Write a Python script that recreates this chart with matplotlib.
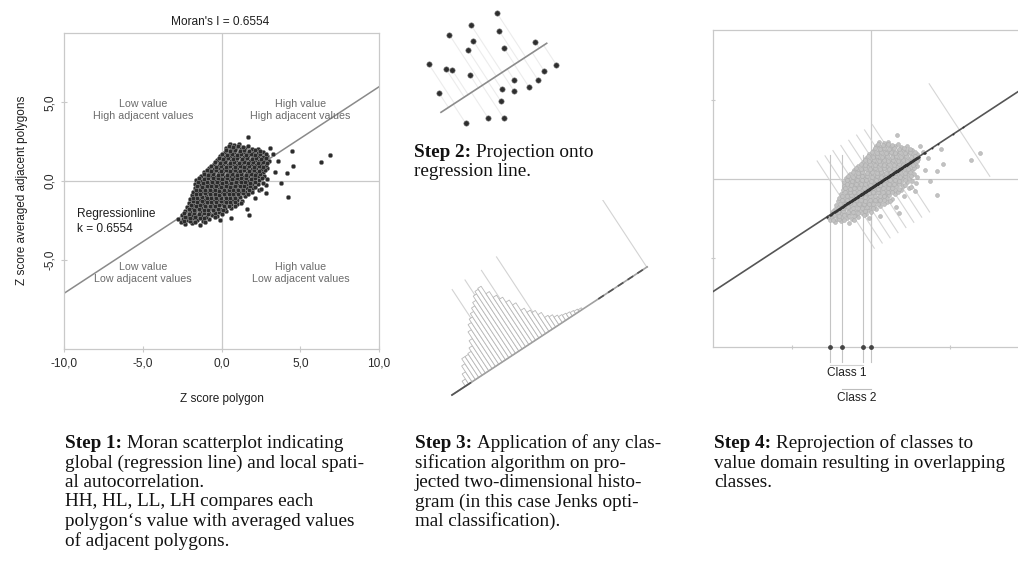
import numpy as np
import matplotlib
matplotlib.use("Agg")
import matplotlib.pyplot as plt
from matplotlib import transforms

# ------------------------------------------------------------------ data
# Moran scatterplot cloud (z score polygon, z score averaged adjacent polygons)
cloud_pts = [
    (-2.6, -2.62), (-2.3, -2.75), (-1.9, -2.66), (-1.4, -2.78),
    (-2.45, -2.41), (-2.15, -2.5), (-1.85, -2.38), (-1.55, -2.47), (-1.2, -2.52), (-0.8, -2.4), (-0.1, -2.48),
    (-2.5, -2.18), (-2.2, -2.26), (-1.9, -2.14), (-1.6, -2.23), (-1.3, -2.17), (-1.0, -2.27), (-0.6, -2.16), (-0.3, -2.22),
    (-2.3, -1.92), (-2.0, -2.0), (-1.7, -1.9), (-1.4, -1.98), (-1.1, -1.93), (-0.8, -2.01), (-0.5, -1.9), (-0.2, -1.97), (0.3, -1.92),
    (-2.2, -1.66), (-1.9, -1.74), (-1.6, -1.68), (-1.3, -1.73), (-1.0, -1.65), (-0.7, -1.72), (-0.4, -1.67), (-0.1, -1.75), (0.2, -1.69), (0.6, -1.71), (1.6, -1.78),
    (-2.1, -1.42), (-1.8, -1.5), (-1.5, -1.43), (-1.2, -1.48), (-0.9, -1.41), (-0.6, -1.49), (-0.3, -1.44), (0.0, -1.47), (0.3, -1.4), (0.6, -1.46), (1.0, -1.43),
    (-2.0, -1.17), (-1.7, -1.24), (-1.4, -1.18), (-1.1, -1.23), (-0.8, -1.16), (-0.5, -1.22), (-0.2, -1.19), (0.1, -1.25), (0.4, -1.17), (0.7, -1.21), (1.0, -1.18), (1.3, -1.24),
    (-1.9, -0.92), (-1.6, -0.98), (-1.3, -0.93), (-1.0, -0.97), (-0.7, -0.91), (-0.4, -0.99), (-0.1, -0.94), (0.2, -0.96), (0.5, -0.9), (0.8, -0.98), (1.1, -0.93), (1.5, -0.96),
    (-1.8, -0.67), (-1.5, -0.73), (-1.2, -0.68), (-0.9, -0.72), (-0.6, -0.66), (-0.3, -0.74), (0.0, -0.69), (0.3, -0.71), (0.6, -0.65), (0.9, -0.73), (1.2, -0.68), (1.5, -0.72), (1.9, -0.67), (2.4, -0.57),
    (-1.7, -0.42), (-1.4, -0.48), (-1.1, -0.43), (-0.8, -0.47), (-0.5, -0.41), (-0.2, -0.49), (0.1, -0.44), (0.4, -0.46), (0.7, -0.4), (1.0, -0.48), (1.3, -0.43), (1.6, -0.47), (2.0, -0.42),
    (-1.7, -0.17), (-1.4, -0.23), (-1.1, -0.18), (-0.8, -0.22), (-0.5, -0.16), (-0.2, -0.24), (0.1, -0.19), (0.4, -0.21), (0.7, -0.15), (1.0, -0.23), (1.3, -0.18), (1.6, -0.22), (1.9, -0.17), (2.3, -0.21), (2.85, -0.27),
    (-1.6, 0.08), (-1.3, 0.02), (-1.0, 0.07), (-0.7, 0.03), (-0.4, 0.09), (-0.1, 0.01), (0.2, 0.06), (0.5, 0.04), (0.8, 0.1), (1.1, 0.02), (1.4, 0.07), (1.7, 0.03), (2.0, 0.08), (2.4, 0.04), (2.9, 0.12),
    (-1.3, 0.33), (-1.0, 0.27), (-0.7, 0.32), (-0.4, 0.28), (-0.1, 0.34), (0.2, 0.26), (0.5, 0.31), (0.8, 0.29), (1.1, 0.35), (1.4, 0.27), (1.7, 0.32), (2.0, 0.28), (2.3, 0.33), (2.7, 0.29),
    (-1.1, 0.58), (-0.8, 0.52), (-0.5, 0.57), (-0.2, 0.53), (0.1, 0.59), (0.4, 0.51), (0.7, 0.56), (1.0, 0.54), (1.3, 0.6), (1.6, 0.52), (1.9, 0.57), (2.2, 0.53), (2.6, 0.58),
    (-0.8, 0.83), (-0.5, 0.77), (-0.2, 0.82), (0.1, 0.78), (0.4, 0.84), (0.7, 0.76), (1.0, 0.81), (1.3, 0.79), (1.6, 0.85), (1.9, 0.77), (2.2, 0.82), (2.5, 0.78), (2.9, 0.83),
    (-0.5, 1.08), (-0.2, 1.02), (0.1, 1.07), (0.4, 1.03), (0.7, 1.09), (1.0, 1.01), (1.3, 1.06), (1.6, 1.04), (1.9, 1.1), (2.2, 1.02), (2.5, 1.07), (2.8, 1.03),
    (-0.3, 1.33), (0.0, 1.27), (0.3, 1.32), (0.6, 1.28), (0.9, 1.34), (1.2, 1.26), (1.5, 1.31), (1.8, 1.29), (2.1, 1.35), (2.4, 1.27), (2.7, 1.32), (3.0, 1.28),
    (-0.1, 1.58), (0.2, 1.52), (0.5, 1.57), (0.8, 1.53), (1.1, 1.59), (1.4, 1.51), (1.7, 1.56), (2.0, 1.54), (2.3, 1.6), (2.6, 1.52), (2.9, 1.57),
    (0.2, 1.83), (0.5, 1.77), (0.8, 1.82), (1.1, 1.78), (1.4, 1.84), (1.7, 1.76), (2.0, 1.81), (2.3, 1.79), (2.6, 1.85),
    (0.3, 2.08), (0.6, 2.02), (0.9, 2.07), (1.2, 2.03), (1.5, 2.09), (1.9, 2.01), (2.3, 2.06),
    (0.5, 2.33), (0.8, 2.27), (1.1, 2.32),
    # in-between polygons (dense core)
    (-2.4, -2.57), (-2.0, -2.55), (-1.7, -2.6), (-1.05, -2.6),
    (-2.35, -2.3), (-2.0, -2.34), (-1.7, -2.29), (-1.4, -2.33), (-1.1, -2.36), (-0.45, -2.3),
    (-2.4, -2.05), (-2.1, -2.1), (-1.75, -2.04), (-1.45, -2.09), (-1.15, -2.06), (-0.85, -2.12), (-0.4, -2.05), (0.0, -2.1),
    (-2.05, -1.8), (-1.75, -1.85), (-1.45, -1.79), (-1.15, -1.84), (-0.85, -1.81), (-0.55, -1.86), (-0.25, -1.8), (0.1, -1.84),
    (-1.95, -1.55), (-1.65, -1.6), (-1.35, -1.54), (-1.05, -1.59), (-0.75, -1.56), (-0.45, -1.61), (-0.15, -1.55), (0.15, -1.6), (0.45, -1.57), (0.85, -1.6),
    (-1.85, -1.3), (-1.55, -1.35), (-1.25, -1.29), (-0.95, -1.34), (-0.65, -1.31), (-0.35, -1.36), (-0.05, -1.3), (0.25, -1.35), (0.55, -1.31), (0.85, -1.33), (1.2, -1.37),
    (-1.85, -1.05), (-1.55, -1.1), (-1.25, -1.04), (-0.95, -1.09), (-0.65, -1.06), (-0.35, -1.11), (-0.05, -1.05), (0.25, -1.1), (0.55, -1.06), (0.85, -1.09), (1.15, -1.04),
    (-1.65, -0.8), (-1.35, -0.85), (-1.05, -0.79), (-0.75, -0.84), (-0.45, -0.81), (-0.15, -0.86), (0.15, -0.8), (0.45, -0.85), (0.75, -0.81), (1.05, -0.84), (1.35, -0.79), (1.7, -0.85),
    (-1.65, -0.55), (-1.35, -0.6), (-1.05, -0.54), (-0.75, -0.59), (-0.45, -0.56), (-0.15, -0.61), (0.15, -0.55), (0.45, -0.6), (0.75, -0.56), (1.05, -0.59), (1.35, -0.54), (1.75, -0.6),
    (-1.55, -0.3), (-1.25, -0.35), (-0.95, -0.29), (-0.65, -0.34), (-0.35, -0.31), (-0.05, -0.36), (0.25, -0.3), (0.55, -0.35), (0.85, -0.31), (1.15, -0.34), (1.45, -0.29), (1.8, -0.33), (2.15, -0.36),
    (-1.5, -0.05), (-1.2, -0.1), (-0.9, -0.04), (-0.6, -0.09), (-0.3, -0.06), (0.0, -0.11), (0.3, -0.05), (0.6, -0.1), (0.9, -0.06), (1.2, -0.09), (1.5, -0.04), (1.8, -0.1), (2.15, -0.06), (2.6, -0.1),
    (-1.45, 0.2), (-1.15, 0.15), (-0.85, 0.21), (-0.55, 0.16), (-0.25, 0.19), (0.05, 0.14), (0.35, 0.2), (0.65, 0.15), (0.95, 0.19), (1.25, 0.16), (1.55, 0.21), (1.85, 0.15), (2.15, 0.2), (2.55, 0.16),
    (-1.15, 0.45), (-0.85, 0.4), (-0.55, 0.46), (-0.25, 0.41), (0.05, 0.44), (0.35, 0.39), (0.65, 0.45), (0.95, 0.4), (1.25, 0.44), (1.55, 0.41), (1.85, 0.46), (2.15, 0.4), (2.45, 0.45),
    (-0.95, 0.7), (-0.65, 0.65), (-0.35, 0.71), (-0.05, 0.66), (0.25, 0.69), (0.55, 0.64), (0.85, 0.7), (1.15, 0.65), (1.45, 0.69), (1.75, 0.66), (2.05, 0.71), (2.35, 0.65), (2.75, 0.7),
    (-0.65, 0.95), (-0.35, 0.9), (-0.05, 0.96), (0.25, 0.91), (0.55, 0.94), (0.85, 0.89), (1.15, 0.95), (1.45, 0.9), (1.75, 0.94), (2.05, 0.91), (2.35, 0.96), (2.65, 0.9),
    (-0.4, 1.2), (-0.1, 1.15), (0.2, 1.21), (0.5, 1.16), (0.8, 1.19), (1.1, 1.14), (1.4, 1.2), (1.7, 1.15), (2.0, 1.19), (2.3, 1.16), (2.6, 1.21), (2.9, 1.15),
    (-0.2, 1.45), (0.1, 1.4), (0.4, 1.46), (0.7, 1.41), (1.0, 1.44), (1.3, 1.39), (1.6, 1.45), (1.9, 1.4), (2.2, 1.44), (2.5, 1.41), (2.8, 1.46),
    (0.05, 1.7), (0.35, 1.65), (0.65, 1.71), (0.95, 1.66), (1.25, 1.69), (1.55, 1.64), (1.85, 1.7), (2.15, 1.65), (2.45, 1.69), (2.8, 1.72),
    (0.25, 1.95), (0.55, 1.9), (0.85, 1.96), (1.15, 1.91), (1.45, 1.94), (1.75, 1.89), (2.1, 1.95), (2.45, 1.92),
    (0.45, 2.2), (0.75, 2.15), (1.05, 2.21), (1.35, 2.18), (1.7, 2.2),
    # scattered outliers
    (1.67, 2.8), (4.44, 1.92), (6.3, 1.2), (6.9, 1.65), (4.2, -1.0), (4.55, 0.95), (3.76, -0.1),
    (3.28, 1.71), (4.17, 0.49), (1.75, -2.16), (2.8, -0.74), (3.4, 0.6), (3.6, 1.3), (2.5, -0.5),
    (3.1, 2.1), (-2.75, -2.4), (0.6, -2.35), (2.1, -1.1),
]
cloud_x = [p[0] for p in cloud_pts]
cloud_y = [p[1] for p in cloud_pts]

reg_slope = 0.6554
reg_intercept = -0.57
title_text = "Moran's I = 0.6554"
x_ticks = [-10, -5, 0, 5, 10]
x_ticklabels = ["-10,0", "-5,0", "0,0", "5,0", "10,0"]
y_ticks = [-5, 0, 5]
y_ticklabels = ["-5,0", "0,0", "5,0"]
quadrant_labels = ["Low value\nHigh adjacent values", "High value\nHigh adjacent values",
                   "Low value\nLow adjacent values", "High value\nLow adjacent values"]

# Step 2 illustration points (panel units)
step2_x = [96.7, 71, 49.3, 99, 73.3, 68, 103.7, 135.3, 28.7, 45.7, 52.3, 69.7,
           156.3, 144, 114.3, 138, 101.7, 114, 129, 39, 100.7, 88.3, 103.7, 65.7]
step2_y = [12.7, 25, 34.7, 30.7, 41, 50, 47.7, 42, 64, 68.7, 70.3, 74.7,
           64.7, 70.7, 80, 80, 89, 91, 87, 93, 101, 118.3, 118.3, 123.3]
step2_line_x = [41, 146.7]
step2_line_y = [112.3, 43.3]

# Step 3 projected histogram (heights along the rotated axis)
hist_heights = [6, 12, 19, 25, 25, 26, 30, 36, 44, 50, 54, 58, 62, 66, 71, 74, 75,
                66, 59, 54, 48, 42, 33, 28, 25, 20, 14, 12, 9, 7, 6, 5, 4, 3, 2]
hist_breaks = [58, 74, 93, 113, 233]
hist_break_tops = [88, 89, 88, 91, 92]

# Step 4 class breaks
class_breaks = [-2.6, -1.84, -0.5, 0.0]
class1 = (-2.6, -0.5)
class2 = (-1.84, 0.0)
perp_feet = [-1.6, -1.1, -0.6, -0.1, 0.4, 0.9, 1.4, 1.9, 5.6]

step1_lines = ["Moran scatterplot indicating",
               "global (regression line) and local spati-",
               "al autocorrelation.",
               "HH, HL, LL, LH compares each",
               "polygon\u2018s value with averaged values",
               "of adjacent polygons."]
step2_lines = ["Projection onto", "regression line."]
step3_lines = ["Application of any clas-",
               "sification algorithm on pro-",
               "jected two-dimensional histo-",
               "gram (in this case Jenks opti-",
               "mal classification)."]
step4_lines = ["Reprojection of classes to",
               "value domain resulting in overlapping",
               "classes."]

# ------------------------------------------------------------------ figure
W, H = 1018, 570
fig = plt.figure(figsize=(W / 100, H / 100), dpi=100)
fig.patch.set_facecolor("white")

def fx(px):
    return px / W

def fy(py):
    return 1 - py / H

SANS = "Liberation Sans"
SERIF = "Liberation Serif"
LIGHT = "#c9c9c9"
TXT = "#1e1e1e"

cx = np.array(cloud_x)
cy = np.array(cloud_y)

# ---------------- Panel 1: Moran scatterplot
ax1 = fig.add_axes([fx(64.3), fy(349), (379 - 64.3) / W, (349 - 33) / H])
ax1.set_xlim(-10, 10)
ax1.set_ylim(-10.67, 9.40)
for s in ax1.spines.values():
    s.set_color(LIGHT)
    s.set_linewidth(0.9)
ax1.axhline(0, color=LIGHT, lw=0.9, zorder=1)
ax1.axvline(0, color=LIGHT, lw=0.9, zorder=1)
xx = np.array([-10, 10])
ax1.plot(xx, reg_slope * xx + reg_intercept, color="#8a8a8a", lw=1.1, zorder=2)
ax1.scatter(cx, cy, s=10, facecolor="#2b2b2b", edgecolor="#8f8f8f", linewidth=0.35, zorder=3)
ax1.set_xticks(x_ticks)
ax1.set_xticklabels(x_ticklabels, fontfamily=SANS, fontsize=8.6, color="#2a2a2a")
ax1.set_yticks(y_ticks)
ax1.set_yticklabels(y_ticklabels, fontfamily=SANS, fontsize=8.6, color="#2a2a2a",
                    rotation=90, va="center")
ax1.tick_params(direction="inout", length=4, width=0.8, color=LIGHT, pad=4)
qpos = [(-5, 4.5), (5, 4.5), (-5, -5.85), (5, -5.85)]
for (qx, qy), lab in zip(qpos, quadrant_labels):
    ax1.text(qx, qy, lab, ha="center", va="center", fontfamily=SANS, fontsize=7.7,
             color="#6b6b6b", linespacing=1.25, zorder=4)
ax1.text(-9.2, -2.55, "Regressionline\nk = " + f"{reg_slope:.4f}", ha="left", va="center",
         fontfamily=SANS, fontsize=8.6, color=TXT, linespacing=1.3, zorder=4)
fig.text(fx(220), fy(21.7), title_text, ha="center", va="center", fontfamily=SANS,
         fontsize=8.6, color=TXT)
fig.text(fx(221.7), fy(399), "Z score polygon", ha="center", va="center", fontfamily=SANS,
         fontsize=8.5, color=TXT)
fig.text(fx(21.7), fy(190), "Z score averaged adjacent polygons", ha="center", va="center",
         rotation=90, fontfamily=SANS, fontsize=8.5, color=TXT)

# ---------------- Panel 2: projection illustration
ax2 = fig.add_axes([fx(400), fy(135), 200 / W, 135 / H])
ax2.set_xlim(0, 200)
ax2.set_ylim(135, 0)
ax2.axis("off")
p0 = np.array([step2_line_x[0], step2_line_y[0]])
p1 = np.array([step2_line_x[1], step2_line_y[1]])
u2 = (p1 - p0) / np.linalg.norm(p1 - p0)
for px_, py_ in zip(step2_x, step2_y):
    v = np.array([px_, py_]) - p0
    foot = p0 + np.dot(v, u2) * u2
    ax2.plot([px_, foot[0]], [py_, foot[1]], color="#ececec", lw=0.8, zorder=1)
ax2.plot(step2_line_x, step2_line_y, color="#8c8c8c", lw=1.2, zorder=2)
ax2.scatter(step2_x, step2_y, s=15, facecolor="#2e2e2e", edgecolor="#888888",
            linewidth=0.4, zorder=3)

# ---------------- Panel 3: rotated histogram
ax3 = fig.add_axes([fx(420), fy(420), 280 / W, 220 / H])
ax3.axis("off")
tr3 = transforms.Affine2D().rotate_deg(33.28).translate(32, 25) + ax3.transData
bw = 4
centers = 18 + bw * np.arange(len(hist_heights))
for bs, bt in zip(hist_breaks, hist_break_tops):
    ax3.plot([bs, bs], [0, bt], color="#d3d3d3", lw=0.8, transform=tr3, zorder=1)
ax3.bar(centers, hist_heights, width=bw, bottom=0, facecolor="white", edgecolor="#b8b8b8",
        linewidth=0.6, transform=tr3, zorder=2)
ax3.plot([0, 233.5], [0, 0], color="#a0a0a0", lw=1.2, transform=tr3, zorder=3)
ax3.plot([0, 22], [0, 0], color="#555555", lw=1.2, transform=tr3, zorder=3)
ax3.plot([175, 233.5], [0, 0], color="#555555", lw=1.2, ls=(0, (4, 3)),
         transform=tr3, zorder=3)
ax3.set_xlim(0, 280)
ax3.set_ylim(0, 220)

# ---------------- Panel 4: reprojection
ax4 = fig.add_axes([fx(713), fy(347), 316 / W, 317 / H])
ax4.set_xlim(-10, 10)
ax4.set_ylim(-10.63, 9.43)
for s in ax4.spines.values():
    s.set_color(LIGHT)
    s.set_linewidth(0.9)
ax4.set_xticks([-5, 5])
ax4.set_yticks([-5, 5])
ax4.set_xticklabels([])
ax4.set_yticklabels([])
ax4.tick_params(direction="inout", length=3, width=0.8, color=LIGHT)
ax4.axhline(0, color=LIGHT, lw=0.9, zorder=1)
ax4.axvline(0, color=LIGHT, lw=0.9, zorder=1)
dirv = np.array([1.0, -1.0 / reg_slope])
dirv = dirv / np.linalg.norm(dirv)
for i, t in enumerate(perp_feet):
    foot = np.array([t, reg_slope * t + reg_intercept])
    half = 3.5 if i == len(perp_feet) - 1 else 3.3
    a = foot - half * dirv
    b = foot + half * dirv
    ax4.plot([a[0], b[0]], [a[1], b[1]], color="#d6d6d6", lw=0.8, zorder=1)
ax4.scatter(cx, cy, s=8, facecolor="#c2c2c2", edgecolor="#a9a9a9", linewidth=0.35, zorder=3)
ax4.plot(xx, reg_slope * xx + reg_intercept, color="#555555", lw=1.2, zorder=4)
ul = np.array([1.0, reg_slope]) / np.hypot(1.0, reg_slope)
base = np.array([0.0, reg_intercept])
proj = np.outer((np.column_stack([cx, cy]) - base) @ ul, ul) + base
ax4.scatter(proj[:, 0], proj[:, 1], s=2, color="#333333", zorder=5, linewidths=0)
xt = ax4.get_xaxis_transform()
for cb in class_breaks:
    ax4.plot([cb, cb], [1.5, -10.63], color="#c4c4c4", lw=0.8, zorder=2)
    ax4.plot([cb, cb], [0.0, -0.047], color="#c4c4c4", lw=0.8, transform=xt, clip_on=False)
ax4.scatter(class_breaks, [0] * len(class_breaks), s=6, color="#444444", transform=xt,
            clip_on=False, zorder=6)
ax4.plot(list(class1), [-0.057, -0.057], color="#d0d0d0", lw=0.8, transform=xt, clip_on=False)
ax4.plot(list(class2), [-0.133, -0.133], color="#bdbdbd", lw=0.8, transform=xt, clip_on=False)
ax4.text(np.mean(class1), -0.082, "Class 1", transform=xt, ha="center", va="center",
         fontfamily=SANS, fontsize=8.6, color=TXT, clip_on=False)
ax4.text(np.mean(class2), -0.161, "Class 2", transform=xt, ha="center", va="center",
         fontfamily=SANS, fontsize=8.6, color=TXT, clip_on=False)

# ---------------- captions
renderer = fig.canvas.get_renderer()
FS = 13.8
LH = 19.5

def caption(x_px, base_px, bold, lines):
    t = fig.text(fx(x_px), fy(base_px), bold, fontfamily=SERIF, fontweight="bold",
                 fontsize=FS, va="baseline", ha="left", color="#111111")
    bb = t.get_window_extent(renderer=renderer)
    fig.text((bb.x1 + 4.7) / W, fy(base_px), lines[0], fontfamily=SERIF, fontsize=FS,
             va="baseline", ha="left", color="#111111")
    for i, ln in enumerate(lines[1:], start=1):
        fig.text(fx(x_px), fy(base_px + i * LH), ln, fontfamily=SERIF, fontsize=FS,
                 va="baseline", ha="left", color="#111111")

caption(65, 448, "Step 1:", step1_lines)
caption(414, 157, "Step 2:", step2_lines)
caption(415, 448, "Step 3:", step3_lines)
caption(714, 448, "Step 4:", step4_lines)

fig.savefig("out.png", dpi=100, facecolor="white")
